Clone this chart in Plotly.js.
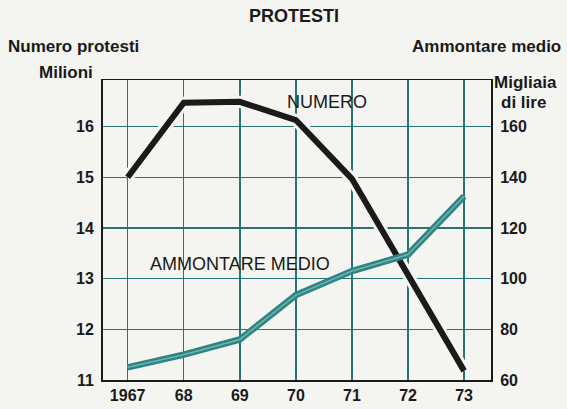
<!DOCTYPE html>
<html>
<head>
<meta charset="utf-8">
<script src="https://cdn.plot.ly/plotly-3.0.1.min.js"></script>
<style>html,body{margin:0;padding:0;background:#f4f4f0;}#chart{width:567px;height:409px;}</style>
</head>
<body>
<div id="chart"></div>
<script>
const years = [1967, 1968, 1969, 1970, 1971, 1972, 1973];
const yearLabels = ["1967", "68", "69", "70", "71", "72", "73"];
const numero = [15.0, 16.47, 16.49, 16.13, 14.97, 13.05, 11.18];     // milioni
const ammontare = [65, 70, 76, 93.5, 103, 109.5, 132.5];            // migliaia di lire
const leftTicks = [11, 12, 13, 14, 15, 16];
const rightTicks = [60, 80, 100, 120, 140, 160];

const BG = "#f4f4f0";
const GRID = "#2b7373";
const TEAL = "#2d8482";
const FONT = "Liberation Sans, Arial, sans-serif";

const traces = [
  {x: years, y: ammontare, yaxis: "y2", mode: "lines", line: {color: TEAL, width: 6.5}, hoverinfo: "skip"},
  {x: years, y: ammontare, yaxis: "y2", mode: "lines", line: {color: "#6fb4b0", width: 1.5}, hoverinfo: "skip"},
  {x: years, y: numero, mode: "lines", line: {color: BG, width: 12}, hoverinfo: "skip"},
  {x: years, y: numero, mode: "lines", line: {color: "#1a1a1a", width: 6}, hoverinfo: "skip"}
];

const W = 388, H = 300, L = 103, T = 80;
function px(x) { return (x - L) / W; }
function py(y) { return (T + H - y) / H; }

const ann = (text, x, y, xa, opts) => Object.assign({
  text: text, xref: "paper", yref: "paper", x: px(x), y: py(y), xanchor: xa, yanchor: "middle",
  showarrow: false, font: {family: FONT, size: 17, color: "#1a1a1a", weight: "bold"}
}, opts || {});

const layout = {
  width: 567, height: 409,
  margin: {l: L, r: 567 - L - W, t: T, b: 409 - T - H},
  paper_bgcolor: BG, plot_bgcolor: BG,
  showlegend: false,
  xaxis: {
    range: [1966.56, 1973.48], tickvals: years, ticktext: yearLabels,
    showgrid: true, gridcolor: GRID, gridwidth: 1.5,
    showline: true, linecolor: "#1a1a1a", linewidth: 1.5, mirror: true,
    ticks: "", zeroline: false,
    tickfont: {family: FONT, size: 16, color: "#1a1a1a", weight: "bold"}
  },
  yaxis: {
    range: [11, 16.92], tickvals: leftTicks,
    showgrid: true, gridcolor: GRID, gridwidth: 1.5,
    showline: true, linecolor: "#1a1a1a", linewidth: 2,
    ticks: "", zeroline: false, ticklabelstandoff: 4,
    tickfont: {family: FONT, size: 16, color: "#1a1a1a", weight: "bold"}
  },
  yaxis2: {
    overlaying: "y", side: "right", range: [60, 178.4], tickvals: rightTicks,
    showgrid: false, showline: true, linecolor: "#1a1a1a", linewidth: 2,
    ticks: "", zeroline: false, ticklabelstandoff: 4,
    tickfont: {family: FONT, size: 16, color: "#1a1a1a", weight: "bold"}
  },
  annotations: [
    ann("PROTESTI", 247, 16, "left", {font: {family: FONT, size: 18, color: "#1a1a1a", weight: "bold"}}),
    ann("Numero protesti", 6, 47, "left"),
    ann("Milioni", 95, 73, "right"),
    ann("Ammontare medio", 563, 47, "right"),
    ann("Migliaia", 492, 82, "left"),
    ann("di lire", 499, 102, "left"),
    ann("NUMERO", 285, 102, "left", {font: {family: FONT, size: 18, color: "#1a1a1a"}}),
    ann("AMMONTARE MEDIO", 148, 264, "left", {font: {family: FONT, size: 18, color: "#1a1a1a"}})
  ]
};

Plotly.newPlot("chart", traces, layout, {staticPlot: true, displayModeBar: false});
</script>
</body>
</html>
